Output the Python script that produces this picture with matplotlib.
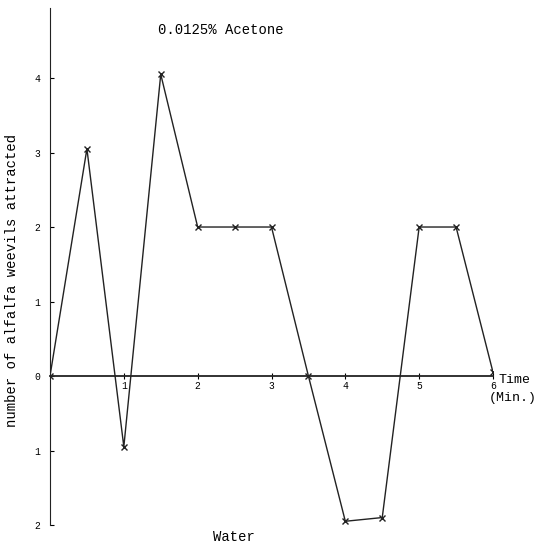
import matplotlib
matplotlib.use('Agg')
import matplotlib.pyplot as plt

# data (negative = attracted to water)
time_min = [0, 0.5, 1, 1.5, 2, 2.5, 3, 3.5, 4, 4.5, 5, 5.5, 6]
weevils = [0, 3.05, -0.95, 4.05, 2, 2, 2, 0, -1.95, -1.9, 2, 2, 0.05]
y_ticks = [4, 3, 2, 1, 0, -1, -2]
y_labels = ['4', '3', '2', '1', '0', '1', '2']
x_ticks = [1, 2, 3, 4, 5, 6]
x_labels = ['1', '2', '3', '4', '5', '6']

plt.rcParams['font.family'] = ['Liberation Mono', 'DejaVu Sans Mono']

fig = plt.figure(figsize=(5.39, 5.46), dpi=100)
ax = fig.add_axes([50 / 539, 21 / 546, 443 / 539, 517 / 546])
ax.set_xlim(0, 6)
ax.set_ylim(-2, 4.94)

ax.plot(time_min, weevils, color='#222222', lw=1.0, marker='x', ms=4, mew=1.0)

for s in ['top', 'right']:
    ax.spines[s].set_visible(False)
ax.spines['left'].set_color('#222222')
ax.spines['bottom'].set_position(('data', 0))
ax.spines['bottom'].set_bounds(0, 6)
ax.spines['bottom'].set_color('#222222')
ax.spines['bottom'].set_linewidth(1.3)

ax.set_yticks(y_ticks)
ax.set_yticklabels(y_labels, fontsize=7)
ax.set_xticks(x_ticks)
ax.set_xticklabels(x_labels, fontsize=7)
ax.tick_params(axis='y', direction='in', length=3, pad=7)
ax.tick_params(axis='x', direction='inout', length=5, pad=1)

fig.text(158 / 539, 1 - 30 / 546, '0.0125% Acetone', fontsize=10, va='center', ha='left')
fig.text(234 / 539, 1 - 537 / 546, 'Water', fontsize=10, va='center', ha='center')
fig.text(498 / 539, 1 - 380 / 546, 'Time', fontsize=9.5, va='center', ha='left')
fig.text(489 / 539, 1 - 398 / 546, '(Min.)', fontsize=9.5, va='center', ha='left')
fig.text(12 / 539, 1 - 280 / 546, 'number of alfalfa weevils attracted', fontsize=10,
         va='center', ha='center', rotation=90)

fig.savefig('out.png', dpi=100)
